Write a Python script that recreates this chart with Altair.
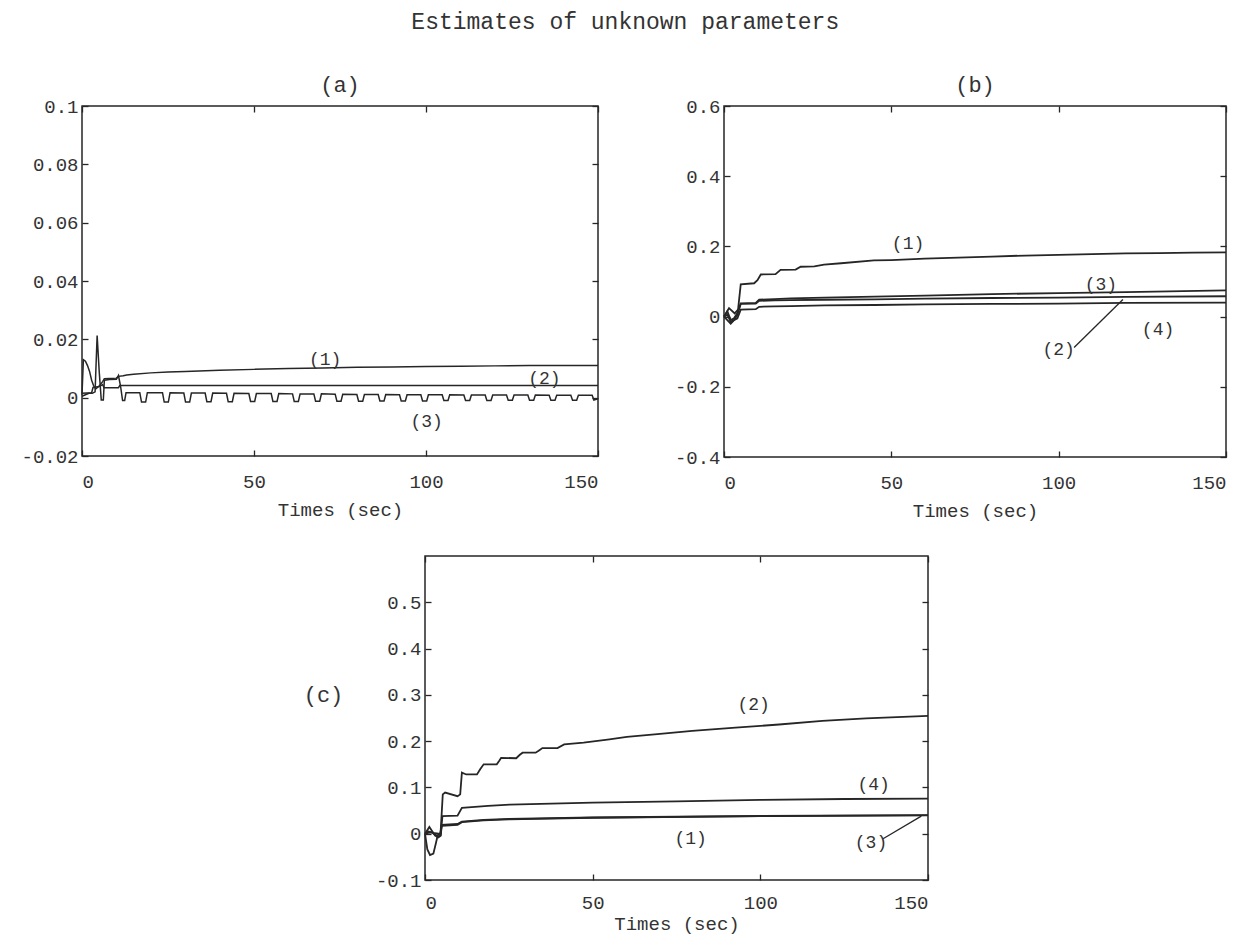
import altair as alt
import pandas as pd

FONT = "Liberation Mono"
INK = "#262626"
TXT = "#333333"

X_TICKS = [0, 50, 100, 150]
A_Y_TICKS = [-0.02, 0, 0.02, 0.04, 0.06, 0.08, 0.1]
B_Y_TICKS = [-0.4, -0.2, 0, 0.2, 0.4, 0.6]
C_Y_TICKS = [-0.1, 0, 0.1, 0.2, 0.3, 0.4, 0.5]

# ---------------- panel (a) ----------------
a1_t = [0, 0.4, 1.0, 1.6, 2.2, 2.8, 3.4, 4.0, 5.0, 6.0, 6.5, 8.0, 10.0, 10.6, 12.0, 13.0,
        15, 20, 25, 30, 40, 50, 60, 70, 80, 90, 100, 110, 120, 130, 140, 150]
a1_v = [0.001, 0.013, 0.0125, 0.011, 0.009, 0.006, 0.004, 0.003, 0.004, 0.0055, 0.0065, 0.0066,
        0.0067, 0.0073, 0.0075, 0.0078, 0.008, 0.0085, 0.0088, 0.009, 0.0094, 0.0097, 0.0100,
        0.0102, 0.0104, 0.0105, 0.0107, 0.0108, 0.0109, 0.011, 0.011, 0.011]

a2_t = [0, 2.8, 3.2, 5.0, 6.0, 6.4, 10.6, 11.0, 20, 50, 100, 150]
a2_v = [0.0015, 0.0017, 0.0035, 0.0038, 0.0045, 0.0034, 0.0034, 0.0042, 0.0042, 0.0042, 0.0042, 0.0042]

a3_t = [0, 1.0, 2.0, 3.0, 3.8, 4.4, 5.0, 5.6, 6.2, 6.5, 8.0, 10.0, 10.6, 11.2, 11.8, 12.4, 12.8, 15.0,
        16.8, 17.3, 18.5, 19.0,
        23.4, 23.9, 25.1, 25.6,
        29.6, 30.1, 31.3, 31.8,
        35.8, 36.3, 37.5, 38.0,
        42.0, 42.5, 43.7, 44.2,
        48.5, 49.0, 50.2, 50.7,
        55.0, 55.5, 56.7, 57.2,
        61.2, 61.7, 62.9, 63.4,
        67.4, 67.9, 69.1, 69.6,
        73.6, 74.1, 75.3, 75.8,
        79.9, 80.4, 81.6, 82.1,
        86.1, 86.6, 87.8, 88.3,
        92.3, 92.8, 94.0, 94.5,
        98.5, 99.0, 100.2, 100.7,
        104.7, 105.2, 106.4, 106.9,
        111.0, 111.5, 112.7, 113.2,
        117.2, 117.7, 118.9, 119.4,
        123.4, 123.9, 125.1, 125.6,
        129.6, 130.1, 131.3, 131.8,
        135.8, 136.3, 137.5, 138.0,
        142.1, 142.6, 143.8, 144.3,
        148.3, 148.8, 150.0]
a3_v = [0.0005, 0.001, 0.0015, 0.0015, 0.002, 0.0213, 0.009, -0.0008, -0.0008, 0.006, 0.0062, 0.0063,
        0.0076, 0.004, -0.001, -0.001, 0.0017, 0.0017,
        0.0017, -0.0015, -0.0015, 0.0017,
        0.0017, -0.0015, -0.0015, 0.0017,
        0.0016, -0.0015, -0.0015, 0.0016,
        0.0016, -0.0014, -0.0014, 0.0016,
        0.0015, -0.0014, -0.0014, 0.0015,
        0.0014, -0.0013, -0.0013, 0.0014,
        0.0014, -0.0013, -0.0013, 0.0014,
        0.0013, -0.0013, -0.0013, 0.0013,
        0.0013, -0.0012, -0.0012, 0.0013,
        0.0012, -0.0012, -0.0012, 0.0012,
        0.0011, -0.0012, -0.0012, 0.0011,
        0.0011, -0.0011, -0.0011, 0.0011,
        0.0010, -0.0011, -0.0011, 0.0010,
        0.0010, -0.0011, -0.0011, 0.0010,
        0.0010, -0.0010, -0.0010, 0.0010,
        0.0009, -0.0010, -0.0010, 0.0009,
        0.0009, -0.0010, -0.0010, 0.0009,
        0.0009, -0.0009, -0.0009, 0.0009,
        0.0009, -0.0009, -0.0009, 0.0009,
        0.0008, -0.0009, -0.0009, 0.0008,
        0.0008, -0.0009, -0.0009, 0.0008,
        0.0008, -0.0008, -0.0004]

a_lab_text = ["(1)", "(2)", "(3)"]
a_lab_t = [70.7, 134.4, 100.2]
a_lab_v = [0.0129, 0.0063, -0.0082]

# ---------------- panel (b) ----------------
b1_t = [0, 1.5, 3.2, 4.2, 5.0, 9.0, 10.0, 11.0, 15.4, 16.9, 21.4, 22.9, 27, 29.9, 35, 44.8,
        50, 60, 70, 80, 90, 100, 110, 120, 130, 140, 150]
b1_v = [0.0, 0.024, 0.009, 0.02, 0.092, 0.095, 0.104, 0.12, 0.121, 0.133, 0.134, 0.142, 0.143,
        0.148, 0.152, 0.16, 0.161, 0.165, 0.168, 0.171, 0.174, 0.176, 0.178, 0.18, 0.181, 0.182, 0.183]

b_t = [0, 1, 2, 3, 4, 5, 9.5, 10.5, 15, 20, 30, 45, 60, 80, 100, 120, 150]
b3_v = [0, 0.015, -0.01, -0.005, 0.01, 0.038, 0.039, 0.048, 0.05, 0.052, 0.054, 0.057, 0.06,
        0.064, 0.067, 0.07, 0.075]
b2_v = [0, 0.005, -0.015, -0.01, 0.005, 0.036, 0.037, 0.045, 0.046, 0.047, 0.048, 0.049, 0.051,
        0.053, 0.054, 0.056, 0.058]
b4_v = [0, -0.01, -0.02, -0.01, -0.005, 0.02, 0.021, 0.028, 0.029, 0.030, 0.032, 0.033, 0.035,
        0.036, 0.037, 0.039, 0.040]

b_lab_text = ["(1)", "(3)", "(4)", "(2)"]
b_lab_t = [55, 112.6, 129.7, 100]
b_lab_v = [0.206, 0.089, -0.039, -0.096]
b_lead_t = [104.6, 119.2]
b_lead_v = [-0.088, 0.0485]

# ---------------- panel (c) ----------------
c1_t = [0, 1.3, 2.0, 3.0, 4.0, 4.7, 5.0, 9.7, 11, 17.5, 25, 50, 100, 150]
c1_v = [0, 0.0145, 0.007, -0.004, -0.008, -0.004, 0.019, 0.021, 0.026, 0.030, 0.032, 0.035, 0.0383, 0.040]

c2_t = [0, 1, 2, 3, 4, 4.6, 5.3, 6, 9.7, 10.5, 11, 12.3, 15.5, 16.5, 17.5, 21.4, 22.2, 22.7, 27.2,
        28.2, 29.1, 33, 34, 35, 39.5, 41.5, 47.3, 55, 60.2, 69.3, 79.7, 92.6, 105.6, 118.5, 131.5, 150]
c2_v = [0, 0.005, 0.003, -0.002, -0.006, -0.004, 0.085, 0.089, 0.081, 0.085, 0.132, 0.128, 0.128,
        0.14, 0.150, 0.150, 0.158, 0.164, 0.163, 0.17, 0.175, 0.175, 0.18, 0.185, 0.185, 0.193,
        0.197, 0.204, 0.209, 0.215, 0.222, 0.229, 0.236, 0.244, 0.249, 0.2545]

c3_t = [0, 0.7, 1.5, 2.5, 3.3, 3.8, 4.5, 5.0, 9.7, 11, 17.5, 25, 50, 100, 150]
c3_v = [0, -0.034, -0.046, -0.043, -0.019, -0.003, 0.0, 0.017, 0.019, 0.025, 0.029, 0.031, 0.0345,
        0.038, 0.0397]

c4_t = [0, 1, 2, 3, 4, 4.7, 5.2, 9.7, 11, 14.9, 18.8, 25.3, 50, 75, 100, 125, 150]
c4_v = [0, 0.002, 0.003, 0.001, 0.0, 0.0, 0.038, 0.039, 0.056, 0.058, 0.060, 0.063, 0.067, 0.070,
        0.073, 0.075, 0.076]

c_lab_text = ["(2)", "(4)", "(1)", "(3)"]
c_lab_t = [98, 133.8, 79.2, 133]
c_lab_v = [0.278, 0.105, -0.012, -0.021]
c_lead_t = [136.6, 148]
c_lead_v = [-0.011, 0.038]


def long_df(series):
    rows = []
    for name, ts, vs in series:
        rows += [{"t": t, "v": v, "s": name} for t, v in zip(ts, vs)]
    return pd.DataFrame(rows)


def panel(lines, lab_text, lab_t, lab_v, leaders, ydom, yticks, w, h, lw,
          xlabpad, xtitlepad, ytitle=None):
    xs = alt.Scale(domain=[0, 150], nice=False, zero=False)
    ys = alt.Scale(domain=ydom, nice=False, zero=False)
    common = dict(offset=-6, tickSize=6, domain=False, grid=False, tickColor=INK, tickWidth=1.3)
    yleft = dict(values=yticks, orient="left", labelPadding=4,
                 labelExpr="'' + datum.value", **common)
    if ytitle is None:
        yleft["title"] = ""
    else:
        yleft.update(ytitle)
    line_layer = alt.Chart(long_df(lines)).mark_line(color=INK, strokeWidth=lw).encode(
        x=alt.X("t:Q", scale=xs, axis=alt.Axis(values=X_TICKS, orient="bottom",
                                              labelPadding=xlabpad, labelExpr="'' + datum.value",
                                              title="Times (sec)", titlePadding=xtitlepad, **common)),
        y=alt.Y("v:Q", scale=ys, axis=alt.Axis(**yleft)),
        detail="s:N",
    )
    lab_df = pd.DataFrame({"t": lab_t, "v": lab_v, "label": lab_text})
    label_layer = alt.Chart(lab_df).mark_text(fontSize=18, color=TXT, font=FONT).encode(
        x=alt.X("t:Q", scale=xs, axis=alt.Axis(values=X_TICKS, orient="top", labels=False,
                                              title="", **common)),
        y=alt.Y("v:Q", scale=ys, axis=alt.Axis(values=yticks, orient="right", labels=False,
                                              title="", **common)),
        text="label:N",
    )
    layers = [line_layer, label_layer]
    for lt, lv in leaders:
        layers.append(
            alt.Chart(pd.DataFrame({"t": lt, "v": lv})).mark_line(color=INK, strokeWidth=1.3).encode(
                x=alt.X("t:Q", scale=xs, axis=None),
                y=alt.Y("v:Q", scale=ys, axis=None),
            )
        )
    return alt.layer(*layers).resolve_axis(x="independent", y="independent").properties(
        width=w, height=h)


pa = panel([("1", a1_t, a1_v), ("2", a2_t, a2_v), ("3", a3_t, a3_v)],
           a_lab_text, a_lab_t, a_lab_v, [], [-0.02, 0.1], A_Y_TICKS, 516, 350, 1.5,
           16, 9).properties(title=alt.TitleParams("(a)", fontSize=22, offset=0))

pb = panel([("1", b1_t, b1_v), ("2", b_t, b2_v), ("3", b_t, b3_v), ("4", b_t, b4_v)],
           b_lab_text, b_lab_t, b_lab_v, [(b_lead_t, b_lead_v)], [-0.4, 0.6], B_Y_TICKS,
           502, 351, 1.8, 16, 9).properties(title=alt.TitleParams("(b)", fontSize=22, offset=0))

pc = panel([("1", c1_t, c1_v), ("2", c2_t, c2_v), ("3", c3_t, c3_v), ("4", c4_t, c4_v)],
           c_lab_text, c_lab_t, c_lab_v, [(c_lead_t, c_lead_v)], [-0.1, 0.6], C_Y_TICKS,
           503, 324, 1.8, 13, 2,
           ytitle=dict(title="(c)", titleAngle=0, titleX=-108, titleY=138, titleAlign="center",
                       titleBaseline="middle", titleFontSize=22))

spacer = alt.Chart(pd.DataFrame({"t": [0]})).mark_point(opacity=0).encode(
    x=alt.X("t:Q", axis=None), y=alt.Y("t:Q", axis=None)
).properties(width=220, height=10, view=alt.ViewBackground(strokeOpacity=0))

row1 = alt.hconcat(pa, pb, spacing=71)
row2 = alt.hconcat(spacer, pc, spacing=0)

chart = alt.vconcat(row1, row2, spacing=33).properties(
    title=alt.TitleParams("Estimates of unknown parameters", fontSize=23, anchor="middle", offset=39),
    padding={"left": 20, "top": 11, "right": 5, "bottom": 5},
).configure(font=FONT).configure_axis(
    labelFont=FONT, titleFont=FONT, labelFontSize=19, titleFontSize=19,
    labelColor=TXT, titleColor=TXT, titleFontWeight="normal",
).configure_title(font=FONT, color=TXT, fontWeight="normal").configure_view(
    stroke=INK, strokeWidth=1.5)

chart.save("out.html", embed_options={"renderer": "svg", "actions": False})
